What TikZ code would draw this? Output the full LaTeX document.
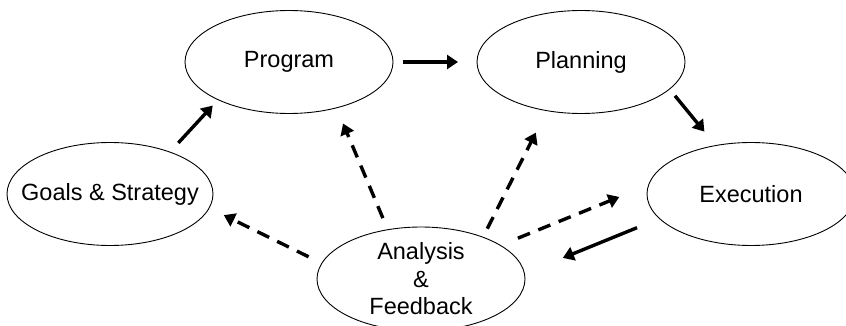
\documentclass[tikz,border=0pt]{standalone}
\usepackage{fontspec}
\setmainfont{Liberation Sans}
\usetikzlibrary{shapes.geometric,arrows.meta}

\tikzset{
  stage/.style={ellipse, draw, line width=0.9pt, inner sep=0pt, outer sep=0pt,
    minimum width=208pt, minimum height=103pt},
  caption/.style={label={[align=center, inner sep=0pt,
    font=\fontsize{23.5}{27.5}\selectfont]center:#1}},
  flow/.style={line width=3.4pt, -{Triangle[length=11pt,width=14pt]}},
  feedback/.style={flow, dash pattern=on 13pt off 9pt},
}

\begin{document}
\begin{tikzpicture}[x=1pt, y=-1pt]
  \useasboundingbox (0,0) rectangle (846,326);

  % stages of the cycle (captions are set as centred labels so the
  % ellipse keeps its own size)
  \node[stage, minimum width=206pt, caption={Goals \& Strategy}] (goals) at (110,194) {};
  \node[stage, caption={Program}]   (program)   at (289,62)  {};
  \node[stage, caption={Planning}]  (planning)  at (581,62)  {};
  \node[stage, caption={Execution}] (execution) at (751,194) {};
  \node[stage, minimum height=104pt, caption={Analysis\\\&\\Feedback}] (analysis) at (421,279) {};

  % main sequence
  \draw[flow, shorten <=12.5pt, shorten >=8pt]   (goals.35.8)    -- (program.208.5);
  \draw[flow, shorten <=10pt,   shorten >=19pt]  (program.0)     -- (planning.180);
  \draw[flow, shorten <=8.7pt,  shorten >=18pt]  (planning.-17.1) -- (execution.126.6);
  \draw[flow, shorten <=24.3pt, shorten >=41.5pt] (execution.195.6) -- (analysis.3.3);

  % feedback loops
  \draw[feedback, shorten <=19pt,   shorten >=31.6pt] (analysis.23.8)  -- (execution.175.3);
  \draw[feedback, shorten <=9.6pt,  shorten >=24.6pt] (analysis.34.4)  -- (planning.235.7);
  \draw[feedback, shorten <=12.6pt, shorten >=17pt]   (analysis.124.4) -- (program.-44.4);
  \draw[feedback, shorten <=14.8pt, shorten >=16.3pt] (analysis.171.7) -- (goals.-8.6);
\end{tikzpicture}
\end{document}
